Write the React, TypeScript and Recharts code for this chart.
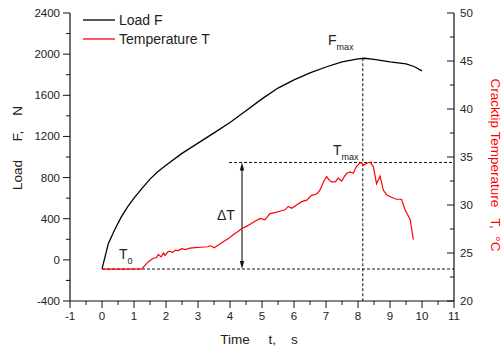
import React from 'react';
import {
  LineChart,
  Line,
  XAxis,
  YAxis,
  ReferenceLine,
  ReferenceDot,
  Legend
} from 'recharts';

// load curve (N) against time (s)
const loadTime = [0, 0.2, 0.4, 0.6, 0.8, 1, 1.25, 1.5, 1.75, 2, 2.5, 3, 3.5, 4, 4.5, 5, 5.5, 6, 6.5, 7, 7.5, 8, 8.2, 8.5, 9, 9.5, 9.75, 10];
const loadValues = [-87, 160, 295, 415, 515, 600, 695, 785, 858, 920, 1035, 1135, 1235, 1335, 1450, 1565, 1670, 1750, 1818, 1875, 1925, 1955, 1960, 1950, 1925, 1905, 1880, 1837];

// crack tip temperature (°C) against time (s)
const tempTime = [
  0, 0.5, 1, 1.24, 1.45, 1.6, 1.7, 1.76, 1.85, 1.92, 1.97, 2.05, 2.12, 2.2, 2.3, 2.38, 2.5, 2.6, 2.75, 2.9,
  3.1, 3.3, 3.4, 3.5, 3.65, 3.8, 3.95, 4.1, 4.25, 4.37, 4.5, 4.63, 4.78, 4.94, 5.09, 5.25, 5.4, 5.56, 5.72,
  5.82, 5.93, 6.08, 6.24, 6.4, 6.55, 6.71, 6.81, 6.92, 7.02, 7.1, 7.18, 7.29, 7.38, 7.49, 7.58, 7.65, 7.75,
  7.85, 7.95, 8.05, 8.11, 8.17, 8.28, 8.38, 8.48, 8.58, 8.69, 8.79, 8.9, 9.05, 9.2, 9.36, 9.47, 9.63, 9.73
];
const tempValues = [
  23.33, 23.33, 23.33, 23.35, 24.1, 24.45, 24.5, 24.85, 24.6, 25.0, 24.75, 25.1, 25.2, 25.05, 25.3, 25.25, 25.45, 25.35, 25.5, 25.55,
  25.6, 25.65, 25.75, 25.55, 25.85, 26.2, 26.5, 26.9, 27.25, 27.55, 27.75, 28.0, 28.3, 28.6, 28.45, 29.1, 29.2, 29.35, 29.5,
  29.85, 29.65, 30.0, 30.35, 30.5, 31.0, 31.15, 31.55, 32.4, 32.95, 32.6, 32.4, 32.4, 32.8, 32.5, 33.0, 33.3, 33.45,
  33.3, 34.0, 34.35, 34.4, 34.15, 34.35, 34.45, 34.0, 32.2, 33.0, 31.56, 31.05, 30.8, 30.6, 30.6, 29.5, 28.5, 26.4
];

const timeTicks = [-1, -0.5, 0, 0.5, 1, 1.5, 2, 2.5, 3, 3.5, 4, 4.5, 5, 5.5, 6, 6.5, 7, 7.5, 8, 8.5, 9, 9.5, 10, 10.5, 11];
const loadTicks = [-400, -200, 0, 200, 400, 600, 800, 1000, 1200, 1400, 1600, 1800, 2000, 2200, 2400];
const tempTicks = [20, 22.5, 25, 27.5, 30, 32.5, 35, 37.5, 40, 42.5, 45, 47.5, 50];

// annotation anchors
const tZero = 23.33;
const tMax = 34.43;
const fMaxTime = 8.15;
const fMax = 1960;
const tMaxStart = 3.97;
const deltaTTime = 4.375;

const loadData = loadTime.map((t, i) => ({ t, load: loadValues[i] }));
const tempData = tempTime.map((t, i) => ({ t, temp: tempValues[i] }));

const FONT = '"Liberation Sans", Arial, sans-serif';
const INK = '#111';

const LeftTick = (props: any) => {
  const { x, y, payload } = props;
  const v = payload.value;
  const major = v % 400 === 0;
  const ax = x + 10;
  return (
    <g>
      <line x1={ax} x2={ax - (major ? 7 : 4)} y1={y} y2={y} stroke={INK} />
      {major && (
        <text x={x} y={y} dy="0.35em" textAnchor="end" fontSize={11.5} fill="#222" fontFamily={FONT}>
          {v}
        </text>
      )}
    </g>
  );
};

const RightTick = (props: any) => {
  const { x, y, payload } = props;
  const v = payload.value;
  const major = v % 5 === 0;
  const ax = x - 6;
  return (
    <g>
      <line x1={ax} x2={ax - (major ? 7 : 4)} y1={y} y2={y} stroke={INK} />
      {major && (
        <text x={x} y={y} dy="0.35em" textAnchor="start" fontSize={11.5} fill="#222" fontFamily={FONT}>
          {v}
        </text>
      )}
    </g>
  );
};

const BottomTick = (props: any) => {
  const { x, y, payload } = props;
  const v = payload.value;
  const major = Number.isInteger(v);
  const ay = y - 11;
  return (
    <g>
      <line x1={x} x2={x} y1={ay} y2={ay + (major ? 7 : 4)} stroke={INK} />
      {major && (
        <text x={x} y={y} dy="0.71em" textAnchor="middle" fontSize={11.5} fill="#222" fontFamily={FONT}>
          {v}
        </text>
      )}
    </g>
  );
};

const renderLegend = (props: any) => {
  const { payload = [] } = props;
  return (
    <div style={{ fontFamily: FONT, fontSize: 14, color: '#222' }}>
      {payload.map((entry: any) => (
        <div key={entry.value} style={{ display: 'flex', alignItems: 'center', height: 18.4 }}>
          <svg width={32} height={4} style={{ marginRight: 4 }}>
            <line x1={0} x2={32} y1={2} y2={2} stroke={entry.color} strokeWidth={1.3} />
          </svg>
          <span>{entry.value}</span>
        </div>
      ))}
    </div>
  );
};

const Arrow = (props: any) => {
  const { x1, y1, x2, y2 } = props;
  const top = Math.min(y1, y2);
  const bottom = Math.max(y1, y2);
  return (
    <g>
      <line x1={x1} x2={x2} y1={top + 6} y2={bottom - 6} stroke={INK} strokeWidth={1.1} />
      <path d={`M${x1},${top} L${x1 - 2.2},${top + 8} L${x1 + 2.2},${top + 8} Z`} fill={INK} />
      <path d={`M${x1},${bottom} L${x1 - 2.2},${bottom - 8} L${x1 + 2.2},${bottom - 8} Z`} fill={INK} />
    </g>
  );
};

const subLabel = (main: string, sub: string, color = '#222') => (props: any) => (
  <text x={props.cx} y={props.cy} fontFamily={FONT} fontSize={14} fill={color}>
    {main}
    <tspan fontSize={9} dy={5}>{sub}</tspan>
  </text>
);

const leftTitle = (props: any) => {
  const { viewBox } = props;
  const cx = viewBox.x + 7;
  const cy = viewBox.y + 135;
  return (
    <text
      x={cx}
      y={cy}
      transform={`rotate(-90 ${cx} ${cy})`}
      textAnchor="middle"
      dominantBaseline="central"
      fontFamily={FONT}
      fontSize={13.5}
      fill="#222"
      style={{ whiteSpace: 'pre' }}
    >
      {'Load     F,    N'}
    </text>
  );
};

const rightTitle = (props: any) => {
  const { viewBox } = props;
  const cx = viewBox.x + 41;
  const cy = viewBox.y + 152;
  return (
    <text
      x={cx}
      y={cy}
      transform={`rotate(90 ${cx} ${cy})`}
      textAnchor="middle"
      dominantBaseline="central"
      fontFamily={FONT}
      fontSize={13.5}
      fill="#ff0000"
      style={{ whiteSpace: 'pre' }}
    >
      {'Cracktip Temperature   T,  °C'}
    </text>
  );
};

const bottomTitle = (props: any) => {
  const { viewBox } = props;
  const cx = viewBox.x + 189;
  const cy = viewBox.y + 43;
  return (
    <text x={cx} y={cy} textAnchor="middle" fontFamily={FONT} fontSize={13.5} fill="#222" style={{ whiteSpace: 'pre' }}>
      {'Time     t,    s'}
    </text>
  );
};

export default function App() {
  return (
    <div style={{ position: 'absolute', left: 0, top: 0, width: 503, height: 349, background: '#fff' }}>
      <LineChart width={503} height={349} margin={{ top: 13, right: 9, left: 10, bottom: 18 }}>
        <XAxis
          dataKey="t"
          type="number"
          domain={[-1, 11]}
          ticks={timeTicks}
          interval={0}
          allowDataOverflow
          height={30}
          tickLine={false}
          tickSize={0}
          tickMargin={11}
          tick={<BottomTick />}
          axisLine={{ stroke: INK, strokeWidth: 1.2 }}
          label={{ content: bottomTitle }}
        />
        <YAxis
          yAxisId="load"
          type="number"
          domain={[-400, 2400]}
          ticks={loadTicks}
          interval={0}
          allowDataOverflow
          width={60}
          tickLine={false}
          tickSize={0}
          tickMargin={10}
          tick={<LeftTick />}
          axisLine={{ stroke: INK, strokeWidth: 1.2 }}
          label={{ content: leftTitle }}
        />
        <YAxis
          yAxisId="temp"
          orientation="right"
          type="number"
          domain={[20, 50]}
          ticks={tempTicks}
          interval={0}
          allowDataOverflow
          width={40}
          tickLine={false}
          tickSize={0}
          tickMargin={6}
          tick={<RightTick />}
          axisLine={{ stroke: INK, strokeWidth: 1.2 }}
          label={{ content: rightTitle }}
        />
        <Legend
          layout="vertical"
          align="center"
          verticalAlign="middle"
          wrapperStyle={{ top: 11, left: 83, width: 'auto' }}
          content={renderLegend}
        />

        <ReferenceLine
          yAxisId="temp"
          segment={[{ x: 0, y: tZero }, { x: 11, y: tZero }]}
          stroke={INK}
          strokeDasharray="3 2"
        />
        <ReferenceLine
          yAxisId="temp"
          segment={[{ x: tMaxStart, y: tMax }, { x: 11, y: tMax }]}
          stroke={INK}
          strokeDasharray="3 2"
        />
        <ReferenceLine
          yAxisId="load"
          segment={[{ x: fMaxTime, y: fMax }, { x: fMaxTime, y: -400 }]}
          stroke={INK}
          strokeDasharray="3 2"
        />
        <ReferenceLine
          yAxisId="temp"
          segment={[{ x: deltaTTime, y: tMax }, { x: deltaTTime, y: tZero }]}
          shape={Arrow}
        />

        <Line
          yAxisId="load"
          data={loadData}
          dataKey="load"
          name="Load F"
          type="linear"
          stroke="#000"
          strokeWidth={1.3}
          dot={false}
          isAnimationActive={false}
        />
        <Line
          yAxisId="temp"
          data={tempData}
          dataKey="temp"
          name="Temperature T"
          type="linear"
          stroke="#ff0000"
          strokeWidth={1.2}
          dot={false}
          isAnimationActive={false}
        />

        <ReferenceDot yAxisId="load" x={7.06} y={2089} r={0} shape={subLabel('F', 'max')} />
        <ReferenceDot yAxisId="temp" x={7.22} y={35.2} r={0} shape={subLabel('T', 'max')} />
        <ReferenceDot yAxisId="temp" x={0.53} y={24.37} r={0} shape={subLabel('T', '0')} />
        <ReferenceDot yAxisId="temp" x={3.59} y={28.44} r={0} shape={subLabel('\u0394T', '')} />
      </LineChart>
    </div>
  );
}
